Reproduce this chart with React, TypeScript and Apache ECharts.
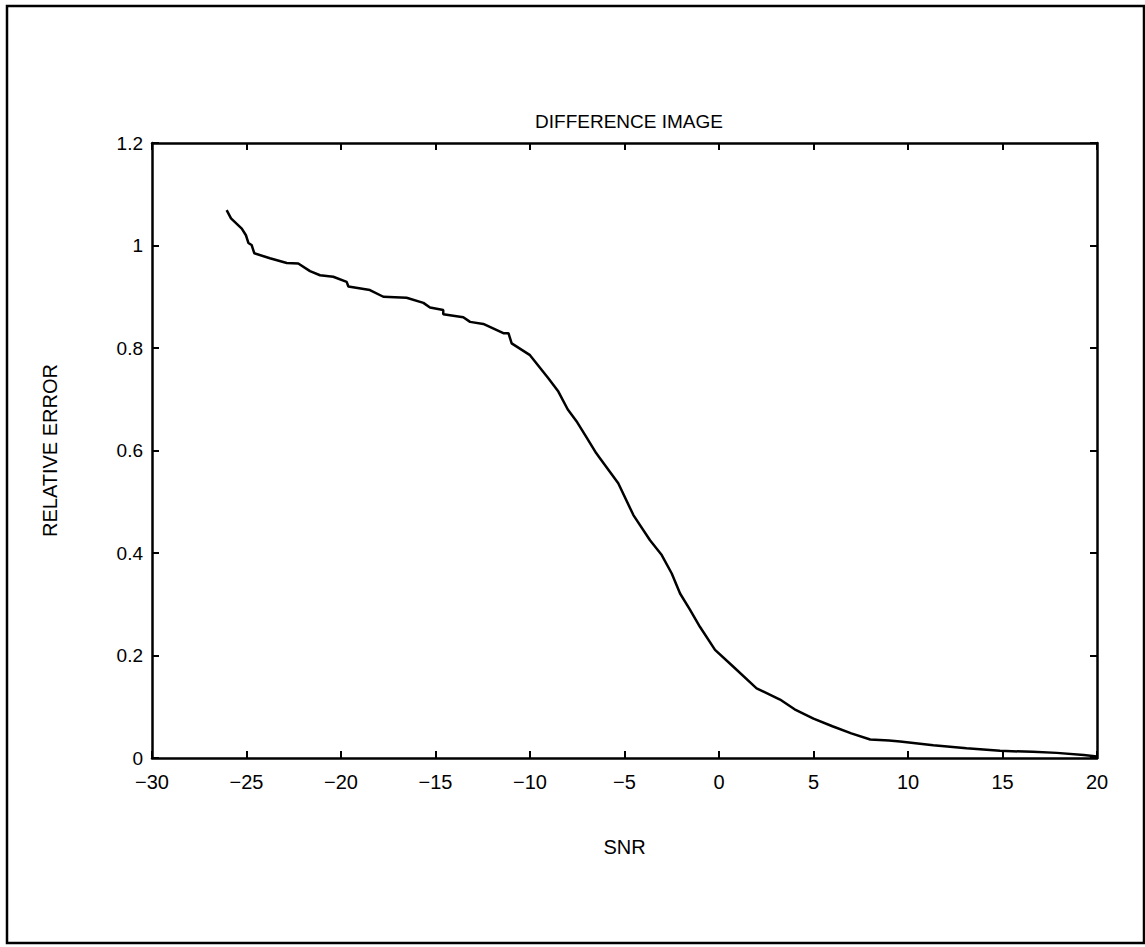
import React, { useEffect, useRef } from "react";
import * as echarts from "echarts";

const snr = [
  -26.05, -25.82, -25.25, -25.03, -24.9, -24.73, -24.59, -23.76, -22.87, -22.26,
  -21.64, -21.11, -20.41, -19.7, -19.61, -18.47, -17.76, -16.53, -15.64, -15.29,
  -14.59, -14.59, -13.53, -13.17, -12.47, -11.41, -11.14, -10.97, -10.0, -9.03,
  -8.5, -8.0, -7.5, -7.0, -6.5, -6.3, -5.33, -4.53, -3.65, -3.03,
  -2.5, -2.06, -1.53, -1.01, -0.21, 0.76, 1.99, 3.23, 4.0, 5.0,
  6.0, 7.0, 8.0, 9.0, 9.58, 11.34, 13.1, 14.87, 16.6, 17.87,
  19.3, 20.0,
];
const relErr = [
  1.069, 1.053, 1.033, 1.02, 1.005, 1.001, 0.985, 0.975, 0.966, 0.965,
  0.95, 0.942, 0.939, 0.929, 0.92, 0.913, 0.9, 0.898, 0.888, 0.879,
  0.874, 0.866, 0.86, 0.851, 0.847, 0.829, 0.829, 0.809, 0.786, 0.741,
  0.715, 0.68, 0.655, 0.625, 0.595, 0.585, 0.536, 0.474, 0.425, 0.396,
  0.36, 0.321, 0.289, 0.256, 0.211, 0.178, 0.136, 0.114, 0.095, 0.077,
  0.062, 0.048, 0.036, 0.034, 0.032, 0.025, 0.019, 0.014, 0.012, 0.01,
  0.006, 0.003,
];

const title = "DIFFERENCE IMAGE";
const xName = "SNR";
const yName = "RELATIVE ERROR";
const FONT = "Liberation Sans, Arial, sans-serif";

export default function App() {
  const ref = useRef<HTMLDivElement>(null);
  useEffect(() => {
    if (!ref.current) return;
    const chart = echarts.init(ref.current, null, { renderer: "svg" });
    const axisLine = { show: true, onZero: false, lineStyle: { color: "#000", width: 2.5 } };
    const axisTick = { show: true, inside: true, length: 7, lineStyle: { color: "#000", width: 2 } };
    chart.setOption({
      animation: false,
      backgroundColor: "#fff",
      title: {
        text: title,
        left: 624,
        top: 107,
        textAlign: "center",
        textStyle: { fontFamily: FONT, fontSize: 19, fontWeight: "normal", color: "#000" },
      },
      grid: { left: 152, top: 143, width: 945, height: 615, containLabel: false },
      xAxis: [
        {
          type: "value",
          min: -30,
          max: 20,
          interval: 5,
          position: "bottom",
          axisLine,
          axisTick,
          splitLine: { show: false },
          axisLabel: {
            margin: 14,
            fontFamily: FONT,
            fontSize: 20,
            color: "#000",
            formatter: (v: number) => String(v).replace("-", "\u2212"),
          },
          name: xName,
          nameLocation: "middle",
          nameGap: 79,
          nameTextStyle: { fontFamily: FONT, fontSize: 20, color: "#000" },
        },
        {
          type: "value",
          min: -30,
          max: 20,
          interval: 5,
          position: "top",
          axisLine,
          axisTick,
          splitLine: { show: false },
          axisLabel: { show: false },
        },
      ],
      yAxis: [
        {
          type: "value",
          min: 0,
          max: 1.2,
          interval: 0.2,
          position: "left",
          axisLine,
          axisTick,
          splitLine: { show: false },
          axisLabel: { margin: 9, fontFamily: FONT, fontSize: 19, color: "#000" },
          name: yName,
          nameLocation: "middle",
          nameGap: 92,
          nameRotate: 90,
          nameTextStyle: { fontFamily: FONT, fontSize: 20, color: "#000" },
        },
        {
          type: "value",
          min: 0,
          max: 1.2,
          interval: 0.2,
          position: "right",
          axisLine,
          axisTick,
          splitLine: { show: false },
          axisLabel: { show: false },
        },
      ],
      graphic: [
        {
          type: "rect",
          shape: { x: 7, y: 6, width: 1137, height: 937 },
          style: { fill: "none", stroke: "#000", lineWidth: 2.5 },
          silent: true,
        },
      ],
      series: [
        {
          type: "line",
          xAxisIndex: 0,
          yAxisIndex: 0,
          data: snr.map((x, i) => [x, relErr[i]]),
          showSymbol: false,
          symbol: "none",
          lineStyle: { color: "#000", width: 2.5 },
        },
      ],
    });
    return () => chart.dispose();
  }, []);
  return (
    <div
      ref={ref}
      style={{ position: "absolute", left: 0, top: 0, width: 1145, height: 947 }}
    />
  );
}
